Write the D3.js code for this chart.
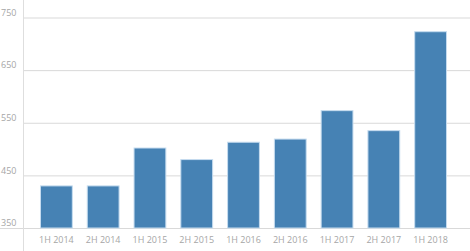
<!DOCTYPE html>
<html>
<head>
<meta charset="utf-8">
<script src="https://cdn.jsdelivr.net/npm/d3@7"></script>
<style>
  body { margin: 0; background: #fff; }
  .tick text { font-family: "Open Sans", sans-serif; font-size: 9px; fill: #a6a6a6; }
</style>
</head>
<body>
<div class="chart"></div>
<script>
var svgWidth = 470;
var svgHeight = 251;

// chart data
var periods = ["1H 2014", "2H 2014", "1H 2015", "2H 2015", "1H 2016", "2H 2016", "1H 2017", "2H 2017", "1H 2018"];
var values = [430, 430, 502, 480, 513, 519, 573, 535, 723];
var yTicks = [350, 450, 550, 650, 750];

var svg = d3.select(".chart")
  .append("svg")
  .attr("width", svgWidth)
  .attr("height", svgHeight);

var xBandScale = d3.scaleBand()
  .domain(periods)
  .range([33, 454])
  .paddingInner(0.32)
  .paddingOuter(0.16);

var yLinearScale = d3.scaleLinear()
  .domain([350, 750])
  .range([228, 17.5]);

// horizontal gridlines with labels sitting on top of them
var leftAxis = d3.axisLeft(yLinearScale)
  .tickValues(yTicks)
  .tickSize(0)
  .tickFormat(d3.format("d"));

var yAxis = svg.append("g")
  .call(leftAxis);
yAxis.select(".domain").remove();
yAxis.selectAll(".tick text")
  .attr("text-anchor", "start")
  .attr("x", 1)
  .attr("dy", "-0.25em");
yAxis.selectAll(".tick").append("line")
  .attr("x1", function(d) { return d === 350 ? 0 : 23; })
  .attr("x2", svgWidth)
  .attr("stroke", "#d9d9d9")
  .attr("stroke-width", 1);

// vertical axis line
svg.append("line")
  .attr("x1", 23.5).attr("x2", 23.5)
  .attr("y1", 0).attr("y2", svgHeight)
  .attr("stroke", "#dedede");

svg.selectAll("rect.bar")
  .data(values)
  .enter().append("rect")
    .attr("class", "bar")
    .attr("x", function(d, i) { return xBandScale(periods[i]); })
    .attr("y", function(d) { return yLinearScale(d); })
    .attr("width", xBandScale.bandwidth())
    .attr("height", function(d) { return yLinearScale(350) - yLinearScale(d); })
    .attr("fill", "#4682b4")
    .attr("stroke", "#c6dcef")
    .attr("stroke-width", 1);

var bottomAxis = d3.axisBottom(xBandScale).tickSize(0).tickPadding(9);
var xAxis = svg.append("g")
  .attr("transform", "translate(0,228)")
  .call(bottomAxis);
xAxis.select(".domain").remove();
</script>
</body>
</html>
